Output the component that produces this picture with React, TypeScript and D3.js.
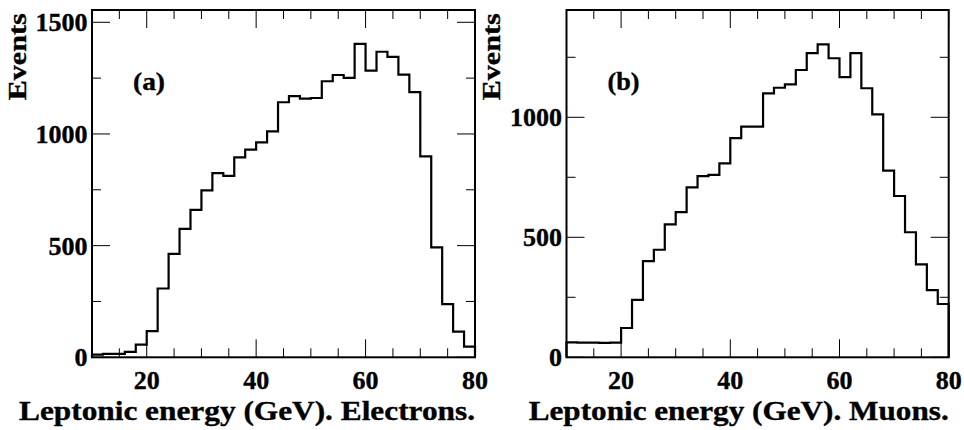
import React from 'react';
import * as d3 from 'd3';

const binEdges = [10, 12, 14, 16, 18, 20, 22, 24, 26, 28, 30, 32, 34, 36, 38, 40, 42, 44, 46, 48, 50, 52, 54, 56, 58, 60, 62, 64, 66, 68, 70, 72, 74, 76, 78, 80];

const electrons = [12, 15, 15, 24, 57, 117, 308, 463, 575, 660, 747, 825, 812, 895, 930, 962, 1012, 1142, 1169, 1158, 1161, 1236, 1264, 1251, 1403, 1284, 1368, 1345, 1266, 1187, 900, 492, 238, 115, 48];

const muons = [62, 61, 61, 60, 61, 122, 239, 401, 448, 554, 605, 708, 755, 760, 808, 913, 961, 961, 1100, 1123, 1137, 1197, 1267, 1304, 1246, 1167, 1267, 1121, 1012, 778, 672, 521, 387, 280, 222];

const xMajorTicks = [20, 40, 60, 80];
const xMinorTicks = [15, 25, 30, 35, 45, 50, 55, 65, 70, 75];
const xTickLabels = ['20', '40', '60', '80'];

const yMajorElectrons = [0, 500, 1000, 1500];
const yMinorElectrons = [250, 750, 1250];
const yMajorMuons = [0, 500, 1000];
const yMinorMuons = [250, 750, 1250];

const FONT = "'Liberation Serif', 'Times New Roman', Times, serif";

type PanelProps = {
  left: number;
  right: number;
  values: number[];
  yMax: number;
  yMajor: number[];
  yMinor: number[];
  tag: string;
  title: string;
  titleLength: number;
};

const TOP = 10;
const BOTTOM = 357.3;
const MAJOR = 18;
const MINOR = 9;

function Panel({ left, right, values, yMax, yMajor, yMinor, tag, title, titleLength }: PanelProps) {
  const x = d3.scaleLinear().domain([binEdges[0], binEdges[binEdges.length - 1]]).range([left, right]);
  const y = d3.scaleLinear().domain([0, yMax]).range([BOTTOM, TOP]);

  const pts: [number, number][] = [[binEdges[0], 0]];
  values.forEach((v, i) => pts.push([binEdges[i], v]));
  pts.push([binEdges[binEdges.length - 1], values[values.length - 1]]);
  pts.push([binEdges[binEdges.length - 1], 0]);
  const line = d3
    .line<[number, number]>()
    .x((d) => x(d[0]))
    .y((d) => y(d[1]))
    .curve(d3.curveStepAfter);

  const textProps = { fontFamily: FONT, fontWeight: 'bold' as const, stroke: '#000', strokeWidth: 0.35 };

  return (
    <g>
      <path d={line(pts) || ''} fill="none" stroke="#000" strokeWidth={2.2} />
      {xMajorTicks.map((t) => (
        <g key={'xM' + t}>
          <line x1={x(t)} x2={x(t)} y1={BOTTOM} y2={BOTTOM - MAJOR} stroke="#000" strokeWidth={1} />
          <line x1={x(t)} x2={x(t)} y1={TOP} y2={TOP + MAJOR} stroke="#000" strokeWidth={1} />
        </g>
      ))}
      {xMinorTicks.map((t) => (
        <g key={'xm' + t}>
          <line x1={x(t)} x2={x(t)} y1={BOTTOM} y2={BOTTOM - MINOR} stroke="#000" strokeWidth={1} />
          <line x1={x(t)} x2={x(t)} y1={TOP} y2={TOP + MINOR} stroke="#000" strokeWidth={1} />
        </g>
      ))}
      {yMajor.map((t) => (
        <g key={'yM' + t}>
          <line x1={left} x2={left + MAJOR} y1={y(t)} y2={y(t)} stroke="#000" strokeWidth={1} />
          <line x1={right} x2={right - MAJOR} y1={y(t)} y2={y(t)} stroke="#000" strokeWidth={1} />
        </g>
      ))}
      {yMinor.filter((t) => t < yMax).map((t) => (
        <g key={'ym' + t}>
          <line x1={left} x2={left + MINOR} y1={y(t)} y2={y(t)} stroke="#000" strokeWidth={1} />
          <line x1={right} x2={right - MINOR} y1={y(t)} y2={y(t)} stroke="#000" strokeWidth={1} />
        </g>
      ))}
      <rect x={left} y={TOP} width={right - left} height={BOTTOM - TOP} fill="none" stroke="#000" strokeWidth={2} />
      {xMajorTicks.map((t, i) => (
        <text
          key={'xl' + t}
          x={x(t)}
          y={388.5}
          textAnchor="middle"
          fontSize={25}
          textLength={xTickLabels[i].length * 13}
          lengthAdjust="spacingAndGlyphs"
          {...textProps}
        >
          {xTickLabels[i]}
        </text>
      ))}
      {yMajor.map((t) => (
        <text
          key={'yl' + t}
          x={left - 4.5}
          y={y(t) + 9}
          textAnchor="end"
          fontSize={25}
          textLength={String(t).length * 13}
          lengthAdjust="spacingAndGlyphs"
          {...textProps}
        >
          {String(t)}
        </text>
      ))}
      <text x={left + 41} y={89.5} fontSize={25} textLength={32} lengthAdjust="spacingAndGlyphs" {...textProps}>
        {tag}
      </text>
      <text
        x={right}
        y={419.5}
        textAnchor="end"
        fontSize={27}
        textLength={titleLength}
        lengthAdjust="spacingAndGlyphs"
        {...textProps}
      >
        {title}
      </text>
      <text
        transform={`translate(${left - 66.5},13.3) rotate(-90)`}
        textAnchor="end"
        fontSize={26}
        textLength={87}
        lengthAdjust="spacingAndGlyphs"
        {...textProps}
      >
        Events
      </text>
    </g>
  );
}

export default function App() {
  return (
    <svg
      width={964}
      height={430}
      style={{ position: 'absolute', left: 0, top: 0, display: 'block', background: '#fff' }}
    >
      <rect x={0} y={0} width={964} height={430} fill="#fff" />
      <Panel
        left={92}
        right={475}
        values={electrons}
        yMax={1555}
        yMajor={yMajorElectrons}
        yMinor={yMinorElectrons}
        tag="(a)"
        title="Leptonic energy (GeV). Electrons."
        titleLength={456}
      />
      <Panel
        left={566.5}
        right={948.7}
        values={muons}
        yMax={1447}
        yMajor={yMajorMuons}
        yMinor={yMinorMuons}
        tag="(b)"
        title="Leptonic energy (GeV). Muons."
        titleLength={420}
      />
    </svg>
  );
}
